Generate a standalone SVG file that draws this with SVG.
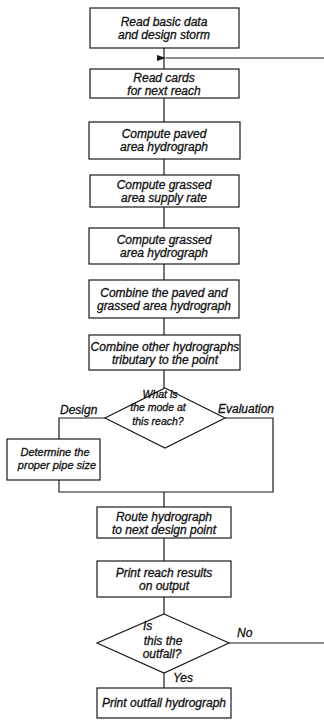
<svg xmlns="http://www.w3.org/2000/svg" width="324" height="725" viewBox="0 0 324 725">
<style>
.b{fill:#fff;stroke:#1a1a1a;stroke-width:1.2}
.c{fill:none;stroke:#1a1a1a;stroke-width:1.2}
text{font-family:"Liberation Sans",Arial,sans-serif;font-style:italic;font-size:12px;fill:#111;stroke:#111;stroke-width:0.3;text-anchor:middle}
.s{font-size:11px}
.d{font-size:10.5px}
.l{text-anchor:start}
</style>
<defs>
<marker id="ah" markerWidth="9" markerHeight="6" refX="0" refY="3" orient="auto" markerUnits="userSpaceOnUse">
<path d="M9,0 L0,3 L9,6 z" fill="#1a1a1a"/>
</marker>
</defs>
<rect width="324" height="725" fill="#fff"/>
<g id="connectors">
<line class="c" x1="164" y1="48" x2="164" y2="69"/>
<line class="c" x1="324" y1="58" x2="166" y2="58" marker-end="url(#ah)"/>
<line class="c" x1="164" y1="98" x2="164" y2="122"/>
<line class="c" x1="164" y1="159" x2="164" y2="175"/>
<line class="c" x1="164" y1="207" x2="164" y2="228"/>
<line class="c" x1="164" y1="264" x2="164" y2="280"/>
<line class="c" x1="164" y1="318" x2="164" y2="335"/>
<line class="c" x1="164" y1="370" x2="164" y2="388"/>
<polyline class="c" points="105,418 59,418 59,439"/>
<polyline class="c" points="225,418 273,418 273,492 59,492 59,480"/>
<line class="c" x1="164" y1="492" x2="164" y2="507"/>
<line class="c" x1="164" y1="538" x2="164" y2="561"/>
<line class="c" x1="164" y1="597" x2="164" y2="614"/>
<line class="c" x1="164" y1="673" x2="164" y2="688"/>
<line class="c" x1="229" y1="643" x2="324" y2="643"/>
<text x="60" y="414" class="l">Design</text>
<text x="218" y="413" class="l">Evaluation</text>
<text x="237" y="637" class="l">No</text>
<text x="173" y="682" class="l">Yes</text>
</g>
<g id="n1"><rect class="b" x="90" y="8" width="149" height="40"/><text x="164" y="26">Read basic data</text><text x="164" y="39">and design storm</text></g>
<g id="n2"><rect class="b" x="90" y="69" width="149" height="29"/><text x="164" y="82">Read cards</text><text x="164" y="95">for next reach</text></g>
<g id="n3"><rect class="b" x="89" y="122" width="151" height="37"/><text x="164" y="138">Compute paved</text><text x="164" y="151">area hydrograph</text></g>
<g id="n4"><rect class="b" x="90" y="175" width="149" height="32"/><text x="164" y="189">Compute grassed</text><text x="164" y="202">area supply rate</text></g>
<g id="n5"><rect class="b" x="89" y="228" width="150" height="36"/><text x="164" y="244">Compute grassed</text><text x="164" y="257">area hydrograph</text></g>
<g id="n6"><rect class="b" x="89" y="280" width="150" height="38"/><text x="164" y="297">Combine the paved and</text><text x="164" y="310">grassed area hydrograph</text></g>
<g id="n7"><rect class="b" x="89" y="335" width="151" height="35"/><text x="165" y="351">Combine other hydrographs</text><text x="165" y="364">tributary to the point</text></g>
<g id="d1"><polygon class="b" points="165,388 225,418 165,448 105,418"/><text class="d" x="160" y="398">What is</text><text class="d" x="158" y="411">the mode at</text><text class="d" x="158" y="425">this reach?</text></g>
<g id="n8"><rect class="b" x="7" y="439" width="93" height="41"/><text class="s" x="55" y="456">Determine the</text><text class="s" x="57" y="469">proper pipe size</text></g>
<g id="n9"><rect class="b" x="97" y="507" width="134" height="31"/><text x="164" y="521">Route hydrograph</text><text x="164" y="534">to next design point</text></g>
<g id="n10"><rect class="b" x="97" y="561" width="134" height="36"/><text x="164" y="577">Print reach results</text><text x="164" y="590">on output</text></g>
<g id="d2"><polygon class="b" points="164,614 229,643 164,673 97,643"/><text class="l" x="143" y="630">Is</text><text x="163" y="645">this the</text><text x="162" y="658">outfall?</text></g>
<g id="n11"><rect class="b" x="97" y="688" width="134" height="30"/><text x="164" y="707">Print outfall hydrograph</text></g>
</svg>
